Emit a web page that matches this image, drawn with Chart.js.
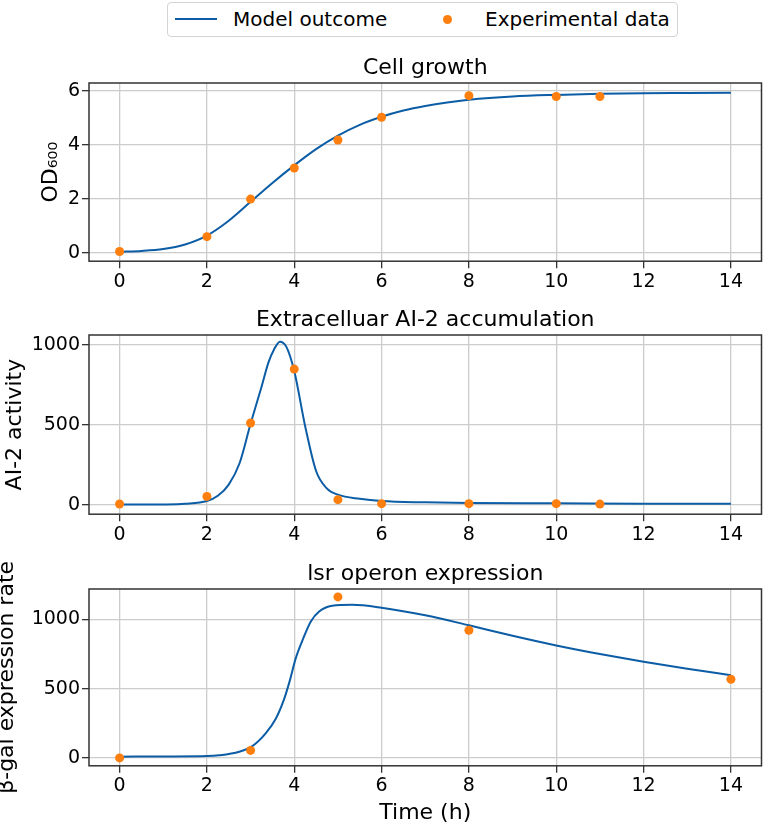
<!DOCTYPE html>
<html>
<head>
<meta charset="utf-8">
<script src="https://cdn.jsdelivr.net/npm/chart.js@4"></script>
<style>
  body { margin: 0; background: #fff; font-family: "DejaVu Sans", sans-serif; }
  #wrap { position: relative; width: 766px; height: 826px; overflow: hidden; }
  canvas { position: absolute; left: 0; }
  #legend { position: absolute; left: 167px; top: 2px; width: 509px; height: 33px;
            border: 1px solid #d4d4d4; border-radius: 4px; font-size: 20px; color: #000; }
  #legend .line { position: absolute; left: 7px; top: 15px; width: 42px; height: 2px; background: #0c5da5; }
  #legend .dot { position: absolute; left: 275px; top: 12px; width: 9px; height: 9px; border-radius: 50%; background: #ff7f0e; }
  #legend span { position: absolute; top: 4px; white-space: nowrap; }
</style>
</head>
<body>
<div id="wrap">
  <div id="legend">
    <div class="line"></div><span style="left:65px">Model outcome</span>
    <div class="dot"></div><span style="left:317px">Experimental data</span>
  </div>
  <canvas id="c1" width="766" height="240" style="top:55px"></canvas>
  <canvas id="c2" width="766" height="241" style="top:307px"></canvas>
  <canvas id="c3" width="766" height="265" style="top:561px"></canvas>
</div>
<script>
// shared x ticks (hours)
const X_TICKS = [0, 2, 4, 6, 8, 10, 12, 14];

// cell growth (OD600)
const growthModelT = [0, 0.5, 1, 1.5, 2, 2.5, 3, 3.5, 4, 4.5, 5, 5.5, 6, 6.5, 7, 7.5, 8, 9, 10, 11, 12, 13, 14];
const growthModelY = [0.05, 0.08, 0.15, 0.32, 0.65, 1.2, 1.9, 2.6, 3.25, 3.85, 4.35, 4.75, 5.05, 5.28, 5.45, 5.58, 5.68, 5.8, 5.86, 5.9, 5.92, 5.93, 5.94];
const growthExpT = [0, 2, 3, 4, 5, 6, 8, 10, 11];
const growthExpY = [0.06, 0.61, 2.0, 3.15, 4.19, 5.03, 5.83, 5.8, 5.8];
const growthTicks = [0, 2, 4, 6];

// extracellular AI-2
const ai2ModelT = [0, 1, 1.5, 2, 2.25, 2.5, 2.75, 3, 3.25, 3.41, 3.54, 3.67, 3.82, 4, 4.25, 4.5, 4.75, 5, 5.5, 6, 7, 8, 10, 12, 14];
const ai2ModelY = [0, 1, 5, 22, 55, 125, 260, 505, 735, 889, 971, 1018, 986, 835, 490, 210, 100, 62, 36, 22, 14, 10, 8, 6, 5];
const ai2ExpT = [0, 2, 3, 4, 5, 6, 8, 10, 11];
const ai2ExpY = [4, 51, 510, 847, 31, 6, 6, 6, 3];
const ai2Ticks = [0, 500, 1000];

// lsr operon expression
const lsrModelT = [0, 1, 2, 2.28, 2.74, 3.04, 3.35, 3.58, 3.77, 3.9, 4.03, 4.19, 4.38, 4.57, 4.87, 5.33, 6, 7, 8, 9, 10, 11, 12, 13, 14];
const lsrModelY = [9, 10, 13, 19, 45, 85, 179, 285, 427, 560, 715, 850, 985, 1057, 1099, 1106, 1085, 1030, 958, 882, 812, 750, 694, 644, 597];
const lsrExpT = [0, 3, 5, 8, 14];
const lsrExpY = [0, 54, 1163, 922, 568];
const lsrTicks = [0, 500, 1000];

Chart.defaults.font.family = '"DejaVu Sans", sans-serif';
Chart.defaults.color = '#000';

const frame = {
  id: 'frame',
  afterDatasetsDraw(chart) {
    const a = chart.chartArea, ctx = chart.ctx;
    ctx.save();
    ctx.strokeStyle = '#333';
    ctx.lineWidth = 1.5;
    ctx.strokeRect(a.left, a.top, a.right - a.left, a.bottom - a.top);
    ctx.restore();
  }
};

function pts(xs, ys) { return xs.map((x, i) => ({ x: x, y: ys[i] })); }

function makeChart(id, cfg) {
  return new Chart(document.getElementById(id), {
    type: 'scatter',
    data: {
      datasets: [
        {
          label: 'Model outcome',
          data: pts(cfg.mt, cfg.my),
          showLine: true,
          pointRadius: 0,
          borderColor: '#0c5da5',
          borderWidth: 2,
          cubicInterpolationMode: 'monotone',
          order: 2
        },
        {
          label: 'Experimental data',
          data: pts(cfg.et, cfg.ey),
          pointRadius: 4.5,
          backgroundColor: '#ff7f0e',
          borderWidth: 0,
          order: 1
        }
      ]
    },
    options: {
      responsive: false,
      animation: false,
      layout: { padding: { left: 0, right: 3, top: 0, bottom: 0 } },
      plugins: {
        legend: { display: false },
        tooltip: { enabled: false },
        title: {
          display: true,
          fullSize: false,
          text: cfg.title,
          font: { size: 22, weight: 'normal', lineHeight: 1.2 },
          padding: { top: 0, bottom: 1.6 },
          color: '#000'
        }
      },
      scales: {
        x: {
          type: 'linear',
          min: -0.7,
          max: 14.7,
          afterBuildTicks: s => { s.ticks = X_TICKS.map(v => ({ value: v })); },
          ticks: { font: { size: 19 }, padding: 2, color: '#000', callback: v => String(v) },
          grid: { color: '#cccccc', lineWidth: 1.3, tickColor: '#333', tickLength: 7, tickWidth: 1.3 },
          border: { display: false },
          title: {
            display: !!cfg.xTitle,
            text: cfg.xTitle || '',
            font: { size: 22, lineHeight: 1.2 },
            padding: { top: 0, bottom: 0 },
            color: '#000'
          }
        },
        y: {
          min: cfg.ymin,
          max: cfg.ymax,
          afterBuildTicks: s => { s.ticks = cfg.yticks.map(v => ({ value: v })); },
          afterFit: s => { s.width = 89; },
          ticks: { font: { size: 19 }, padding: 2, color: '#000', callback: v => String(v) },
          grid: { color: '#cccccc', lineWidth: 1.3, tickColor: '#333', tickLength: 7, tickWidth: 1.3 },
          border: { display: false },
          title: {
            display: true,
            text: cfg.yTitle,
            font: { size: 22, lineHeight: 1 },
            padding: { top: cfg.yPad, bottom: 0 },
            color: '#000'
          }
        }
      }
    },
    plugins: [frame]
  });
}

makeChart('c1', {
  mt: growthModelT, my: growthModelY, et: growthExpT, ey: growthExpY,
  ymin: -0.3, ymax: 6.3, yticks: growthTicks,
  title: 'Cell growth', yTitle: 'OD₆₀₀', yPad: 40
});
makeChart('c2', {
  mt: ai2ModelT, my: ai2ModelY, et: ai2ExpT, ey: ai2ExpY,
  ymin: -60, ymax: 1060, yticks: ai2Ticks,
  title: 'Extracelluar AI-2 accumulation', yTitle: 'AI-2 activity', yPad: 4
});
makeChart('c3', {
  mt: lsrModelT, my: lsrModelY, et: lsrExpT, ey: lsrExpY,
  ymin: -57, ymax: 1220, yticks: lsrTicks,
  title: 'lsr operon expression', yTitle: 'β-gal expression rate', yPad: -4,
  xTitle: 'Time (h)'
});
</script>
</body>
</html>
